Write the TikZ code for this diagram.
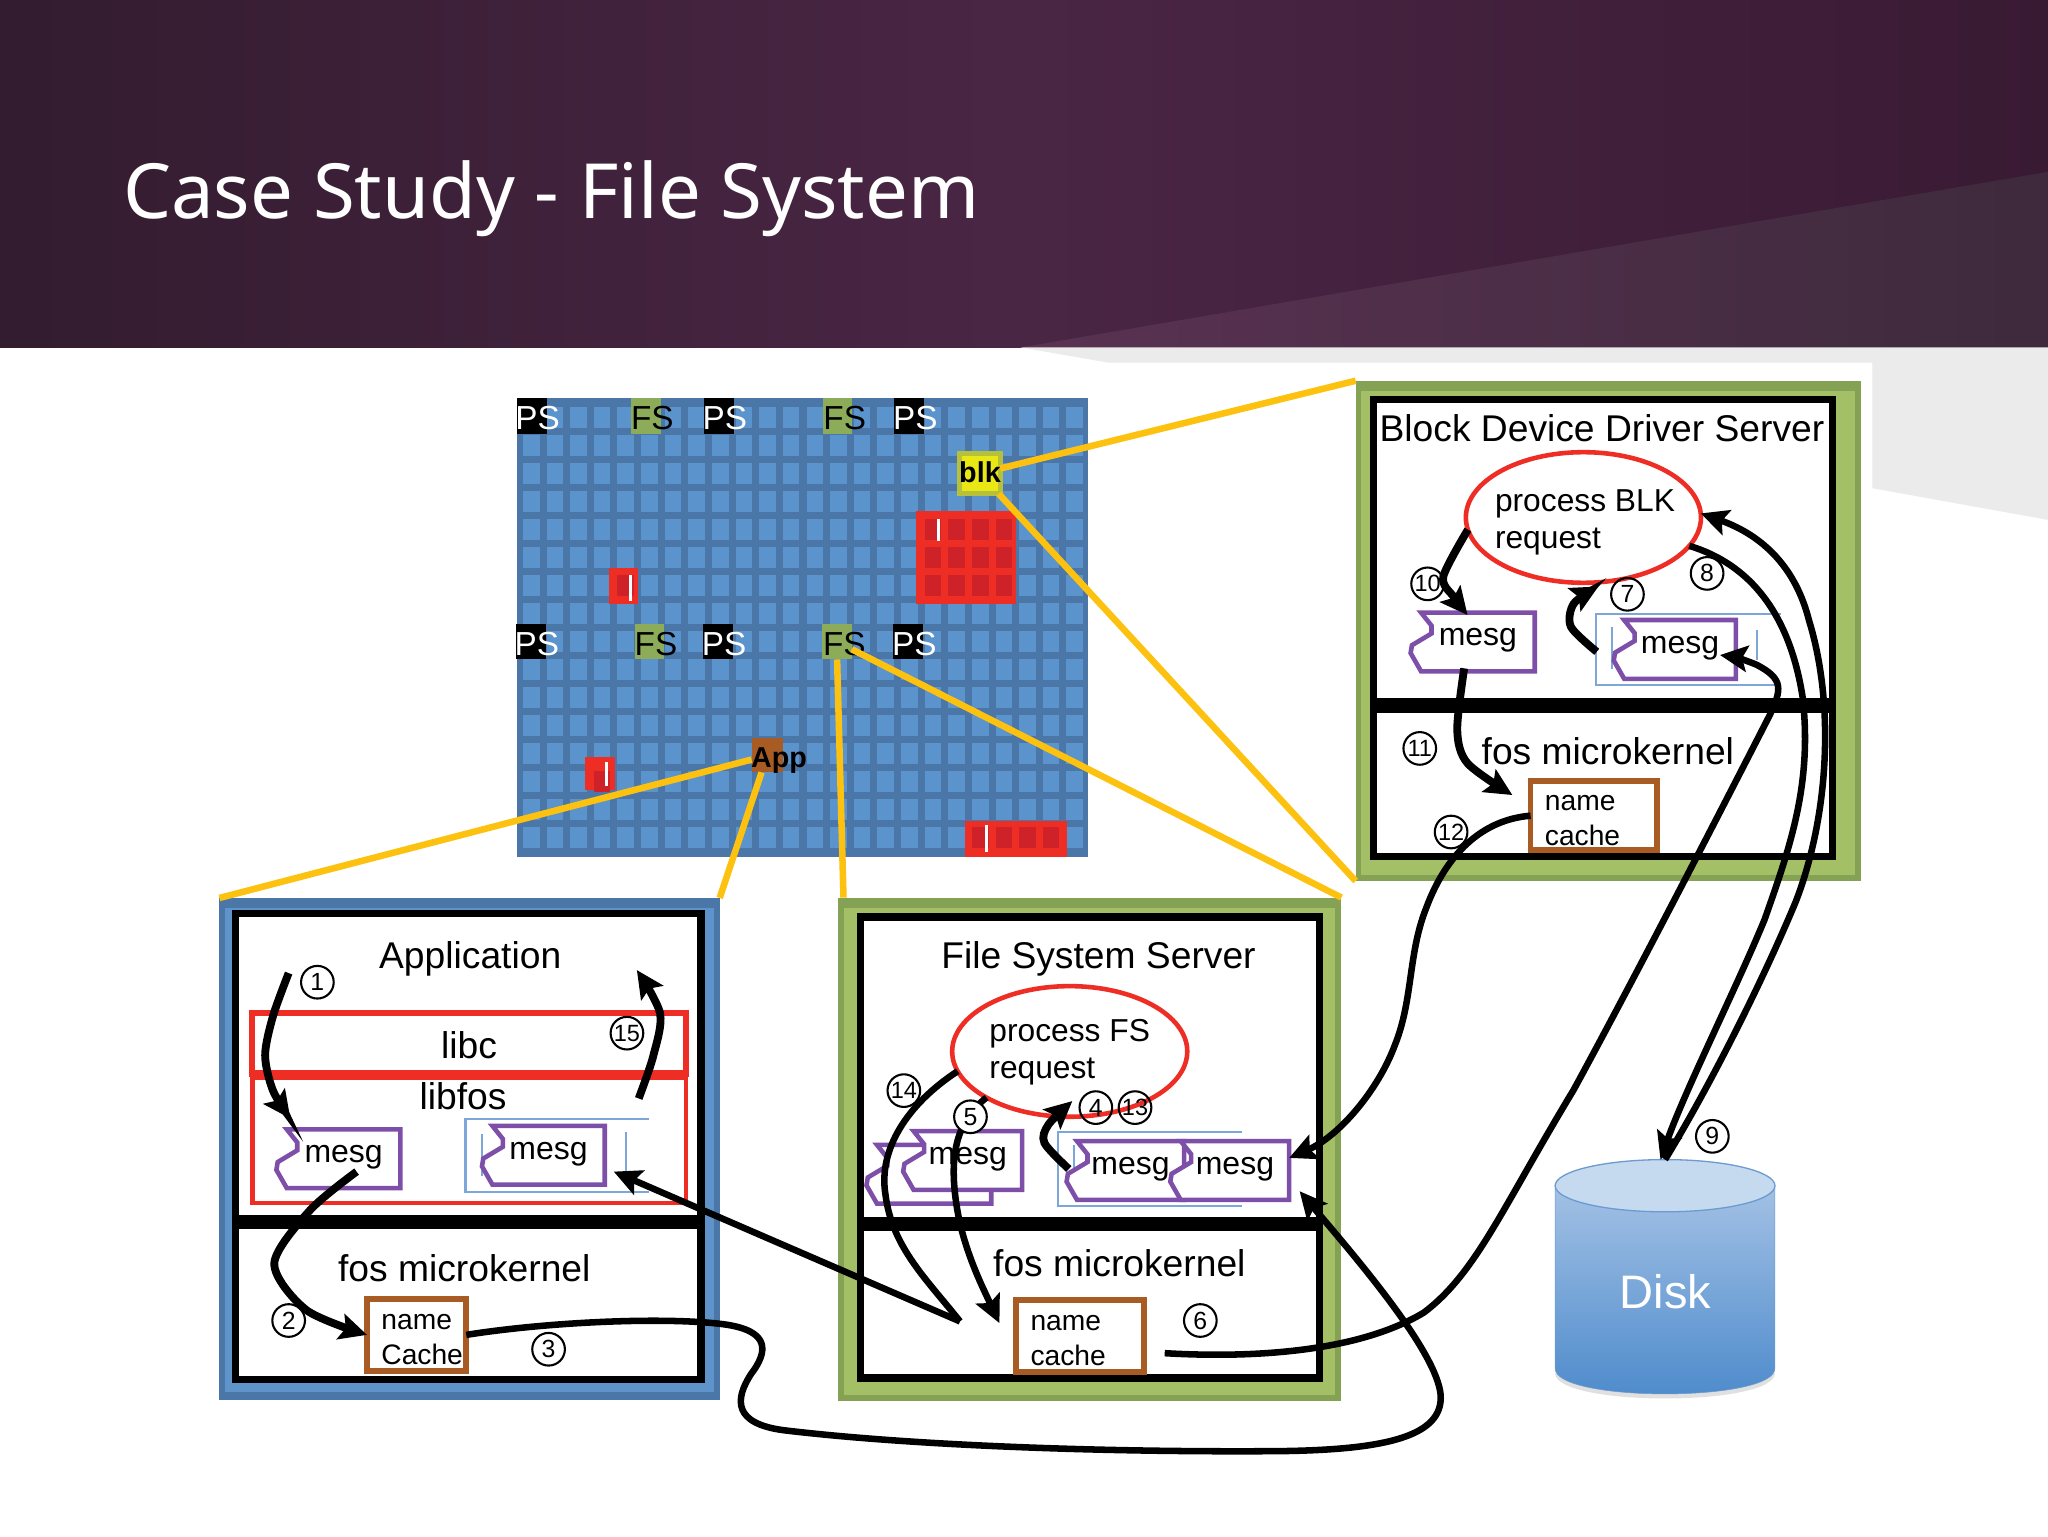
\documentclass[tikz,border=0pt]{standalone}
\usepackage{fontspec}
\setmainfont{Liberation Sans}
\newfontfamily\titlefont{Noto Sans}
\usetikzlibrary{arrows.meta,calc,positioning,shapes.geometric}

\definecolor{bandA}{HTML}{331C2F}
\definecolor{bandB}{HTML}{4A2645}
\definecolor{bandC}{HTML}{391A33}
\definecolor{wedgeA}{HTML}{5A3253}
\definecolor{wedgeB}{HTML}{3E2A3C}
\definecolor{paleGrey}{HTML}{EBEBEB}
\definecolor{chipBlue}{HTML}{4A76A8}
\definecolor{cellBlue}{HTML}{5B93CD}
\definecolor{redOn}{HTML}{EE2D24}
\definecolor{redCell}{HTML}{CF2228}
\definecolor{oliveOn}{HTML}{8CAC5A}
\definecolor{greenDark}{HTML}{85A154}
\definecolor{greenLight}{HTML}{A3C066}
\definecolor{blueLight}{HTML}{5F94CB}
\definecolor{zoomGold}{HTML}{FDC10F}
\definecolor{brownBox}{HTML}{A85C24}
\definecolor{tagPurple}{HTML}{7D4FA8}
\definecolor{brkBlue}{HTML}{7CA7D8}
\definecolor{blkYellow}{HTML}{E9E815}
\definecolor{blkEdge}{HTML}{B6C03A}
\definecolor{diskLid}{HTML}{C5D9EF}
\definecolor{diskHigh}{HTML}{A3C1E5}
\definecolor{diskLow}{HTML}{4C8ACB}
\definecolor{diskEdge}{HTML}{6B9BD0}

\newcommand{\mesgtag}[5]{
  \draw[tagline,shift={(#2,#3)}] (0,0) -- (#4,0) -- (#4,45) -- (0,45) -- (-8,31) -- (-7,25) -- (8,16) -- (8,10) -- cycle;
  \node[msgtxt] (#1) at ({#2+#4/2},{#3+21.5}) {#5};
}
\newcommand{\brk}[5]{
  \draw[brkline] (#3,#1) -- (#2,#1) -- (#2,#5) -- (#3,#5);
  \draw[brkline] (#4,{#1+10}) -- (#4,{#5-12});
}
\newcommand{\namecache}[1]{\rule{0pt}{18.5pt}name\\#1}

\begin{document}
\begin{tikzpicture}[x=1pt,y=-1pt,
                    chip/.style    ={rectangle,outer sep=0pt,inner sep=0pt},
                    chiptxt/.style ={inner sep=0pt,font=\fontsize{25.5}{27}\selectfont},
                    chipbold/.style={inner sep=0pt,font=\bfseries\fontsize{22}{24}\selectfont},
                    outerbox/.style={rectangle,anchor=north west,outer sep=0pt,inner sep=0pt},
                    fosbox/.style  ={rectangle,anchor=north west,draw=black,fill=white,line width=5.5pt,outer sep=0pt,inner sep=0pt},
                    libbox/.style  ={rectangle,draw=redOn,outer sep=0pt,inner sep=0pt,minimum width=332pt},
                    txt/.style     ={inner sep=0pt,font=\fontsize{28.5}{30}\selectfont},
                    msgtxt/.style  ={inner sep=0pt,font=\fontsize{24.5}{26}\selectfont},
                    tagline/.style ={draw=tagPurple,fill=white,line width=3.5pt},
                    brkline/.style ={draw=brkBlue,line width=1.6pt},
                    proc/.style    ={ellipse,draw=redOn,fill=white,line width=3.5pt,outer sep=0pt,inner sep=0pt,minimum width=180pt,minimum height=100pt},
                    proctxt/.style ={inner sep=0pt,align=left,font=\fontsize{24.3}{28}\selectfont},
                    namebox/.style ={rectangle,draw=brownBox,fill=white,line width=4.5pt,outer sep=0pt,inner ysep=0pt,inner xsep=11pt,minimum height=#1,align=left,font=\fontsize{21.6}{27}\selectfont},
                    numc/.style    ={circle,draw=black,line width=1.6pt,outer sep=0pt,inner sep=0pt,minimum size=25pt,font=\fontsize{19}{20}\selectfont},
                    zoomline/.style={draw=zoomGold,line width=5pt},
                    flow/.style    ={draw=black,line width=5pt},
                    flowhead/.style={flow,-{Stealth[length=21pt,width=20pt,inset=4pt]}},
                    flowfat/.style ={draw=black,line width=6pt,-{Stealth[length=21pt,width=20pt,inset=4pt]}}]

  \useasboundingbox (0,0) rectangle (1568,1176);
  \fill[white] (0,0) rectangle (1568,1176);

  % slide header
  \shade[left color=bandA,right color=bandC,middle color=bandB] (0,0) rectangle (1568,266);
  \shade[left color=wedgeA,right color=wedgeB] (781.6,266) -- (1568,131.5) -- (1568,266) -- cycle;
  \fill[paleGrey] (781.6,266) -- (849,277.7) -- (1433.6,277.7) -- (1433.6,373.8) -- (1568,398) -- (1568,266) -- cycle;
  \node[anchor=base west,inner sep=0pt,text=white,font=\titlefont\fontsize{58.3}{62}\selectfont] (title) at (94,167) {Case Study - File System};

  % chip with its tiles
  \fill[chipBlue] (395.6,305) rectangle (833,656.5);
  \foreach \c in {0,...,23}
    \foreach \r in {0,...,15}
      \fill[cellBlue] ({400.4+18.09*\c},{311.6+21.45*\r}) rectangle +(12.7,15.7);

  \fill[redOn] (701,391.3) rectangle (778,462.4);
  \fill[redOn] (466,434.7) rectangle (488.8,462.4);
  \fill[redOn] (447.9,579.4) rectangle (471.2,605.2);
  \fill[redOn] (739.2,628.8) rectangle (816.7,656.5);
  \foreach \c/\r in {17/4,18/4,19/4,20/4,17/5,18/5,19/5,20/5,17/6,18/6,19/6,20/6,4/6,3/13,19/15,20/15,21/15,22/15}
    \fill[redCell] ({400.4+18.09*\c},{311.6+21.45*\r}) rectangle +(12.7,15.7);
  \foreach \x/\y/\h in {718.7/397/17,482.7/440.3/20,464.6/583.7/18,755/632/20}
    \fill[white] ({\x-1.2},\y) rectangle +(2.4,\h);

  \foreach \n/\x/\y in {a/407.1/318.5,b/550.5/318.5,c/696.3/318.5,d/406.5/491.4,e/549.9/491.4,f/695.5/491.4}{
    \node[chip,fill=black,minimum width=23pt,minimum height=27pt] (ps\n) at (\x,\y) {};
    \node[chiptxt,text=white] at ($(ps\n)+(4.5,1.5)$) {PS};
  }
  \foreach \n/\x/\y/\dx in {a/494.5/318.5/5,b/641.2/318.5/5.5,c/497.2/491.4/5,d/640.9/491.4/5.5}{
    \node[chip,fill=oliveOn,minimum width=22.5pt,minimum height=27pt] (fs\n) at (\x,\y) {};
    \node[chiptxt,text=black] at ($(fs\n)+(\dx,1.5)$) {FS};
  }
  \node[chip,fill=blkYellow,draw=blkEdge,line width=3.5pt,minimum width=31pt,minimum height=31pt] (blk) at (750.3,362.5) {};
  \node[chipbold] at ($(blk)+(0,-1)$) {blk};
  \node[chip,fill=brownBox,minimum width=24pt,minimum height=26pt] (app) at (587.4,578.4) {};
  \node[chipbold] at ($(app)+(9,4)$) {App};

  % three panels
  \node[outerbox,fill=chipBlue,minimum width=383pt,minimum height=384pt] (appPanel) at (168,687.5) {};
  \fill[blueLight] (172,695) rectangle (547,1066);
  \node[outerbox,fill=greenDark,minimum width=385.2pt,minimum height=385.8pt] (fsPanel) at (641.8,687.2) {};
  \fill[greenLight] (646,695) rectangle (1022,1068);
  \node[outerbox,fill=greenDark,minimum width=386.8pt,minimum height=383pt] (blkPanel) at (1037.9,291.5) {};
  \fill[greenLight] (1042,299) rectangle (1420,670);

  \draw[zoomline] (blk) -- (blkPanel.north west);
  \draw[zoomline] (blk) -- (blkPanel.south west);
  \draw[zoomline] (fsd) -- (fsPanel.north east);
  \draw[zoomline] (fsd.south) -- ($(fsPanel.north west)+(4,0)$);
  \draw[zoomline] (app) -- (appPanel.north west);
  \draw[zoomline] (app) -- (appPanel.north east);

  \node[fosbox,minimum width=356.7pt,minimum height=233.5pt] (appUser) at (180,699.5) {};
  \node[fosbox,minimum width=356.7pt,minimum height=118pt]   (appKern) at (180,938) {};
  \node[fosbox,minimum width=351.5pt,minimum height=232.7pt] (fsUser)  at (658.5,702) {};
  \node[fosbox,minimum width=351.5pt,minimum height=115pt]   (fsKern)  at (658.5,940) {};
  \node[fosbox,minimum width=351.2pt,minimum height=231.5pt] (blkUser) at (1051.8,306) {};
  \node[fosbox,minimum width=351.2pt,minimum height=113pt]   (blkKern) at (1051.8,543) {};

  \node[txt] (appTitle)  at (360,734.5)  {Application};
  \node[txt] (fsTitle)   at (841,734.5)  {File System Server};
  \node[txt] (blkTitle)  at (1226.5,328) {Block Device Driver Server};
  \node[txt] (appFos)    at (355.5,971)  {fos microkernel};
  \node[txt] (fsFos)     at (857,967)    {fos microkernel};
  \node[txt] (blkFos)    at (1231,575)   {fos microkernel};

  % application side
  \node[libbox,line width=3.5pt,minimum height=96pt] (libfos) at (359.1,873) {};
  \node[libbox,line width=5pt,minimum height=46pt] (libc) at (359.1,798.7) {};
  \node[txt] (libcTxt)   at (359.1,800.5) {libc};
  \node[txt] (libfosTxt) at (354.5,839) {libfos};
  \brk{857}{356.4}{497}{479.4}{912.5}
  \draw[brkline] (368.7,868) -- (368.7,900);
  \mesgtag{mesgA}{219.6}{864.7}{87}{mesg}
  \mesgtag{mesgB}{377}{862}{86}{mesg}
  \node[namebox=55pt,text width=54pt] (appCache) at (319,1022) {\namecache{Cache}};

  % file system side
  \node[proc] (procFS) at (819,805) {};
  \node[proctxt] (procFStxt) at (819,805.5) {process FS\\request};
  \mesgtag{mesgBack}{671.4}{876.5}{87.5}{}
  \mesgtag{mesgC}{699.5}{866}{83}{mesg}
  \brk{867}{810}{951}{822.4}{923}
  \mesgtag{mesgD}{824.6}{873.7}{82}{mesg}
  \mesgtag{mesgE}{904}{873.7}{83}{mesg}
  \node[namebox=55.5pt,text width=76pt] (fsCache) at (827,1023) {\namecache{cache}};

  % block device side
  \node[proc] (procBLK) at (1212.3,396.2) {};
  \node[proctxt] (procBLKtxt) at (1213.5,400) {process BLK\\request};
  \brk{470.4}{1221.7}{1363.5}{1234.3}{524.5}
  \draw[brkline] (1345,482) -- (1345,505);
  \mesgtag{mesgF}{1088}{469}{87}{mesg}
  \mesgtag{mesgG}{1243.5}{474.7}{85.5}{mesg}
  \node[namebox=52.5pt,text width=75pt] (blkCache) at (1220.3,624.5) {\namecache{cache}};

  % disk
  \fill[black!30,opacity=.4] (1190.6,1051) .. controls (1190.6,1077) and (1358.9,1077) .. (1358.9,1051) -- cycle;
  \shade[top color=diskHigh,bottom color=diskLow,draw=diskEdge] (1190.6,907.8) -- (1190.6,1047.7) .. controls (1190.6,1073.7) and (1358.9,1073.7) .. (1358.9,1047.7) -- (1358.9,907.8) -- cycle;
  \node[ellipse,fill=diskLid,draw=diskEdge,line width=1pt,outer sep=0pt,inner sep=0pt,minimum width=168.3pt,minimum height=40pt] (diskTop) at (1274.8,907.8) {};
  \node[text=white,inner sep=0pt,font=\fontsize{36}{38}\selectfont] (disk) at (1275,989) {Disk};

  % step numbers
  \foreach \n/\x/\y in {1/243/752,2/221/1011,3/420/1033,6/919/1011,7/1246/455,8/1307/439,9/1311/870,4/839/848}
    \node[numc] (c\n) at (\x,\y) {\n};
  \foreach \n/\x/\y in {10/1093/447,11/1087/573,12/1111/637,13/869/848,14/692/835,15/480/791}
    \node[numc,font=\fontsize{18}{20}\selectfont] (c\n) at (\x,\y) {\n};

  \coordinate (appStart)  at (221,745);
  \coordinate (mesgAin)   at (222.3,856.3);
  \coordinate (libfosOut) at (489,841);
  \coordinate (appEnd)    at (487.6,742.7);
  \coordinate (mesgAout)  at (273,897);
  \coordinate (mesgBin)   at (469.9,897);
  \coordinate (fsHub)     at (735,1011.7);
  \coordinate (fsCacheIn) at (765.2,1013);
  \coordinate (fsCacheOut) at (891.7,1036);
  \coordinate (fsMsgOut)  at (818.3,895);
  \coordinate (fsProcIn)  at (821,843);
  \coordinate (mesgEin)   at (987,886.5);
  \coordinate (mesgElow)  at (995,912);
  \coordinate (blkBrkOut) at (1222.5,499);
  \coordinate (blkProcIn) at (1223.8,449);
  \coordinate (mesgGin)   at (1316.9,501.5);
  \coordinate (mesgFin)   at (1123.6,470.9);
  \coordinate (mesgFout)  at (1121,511.7);
  \coordinate (blkCacheIn) at (1157.9,608.7);

  % arrows
  \draw[flowfat] plot[smooth] coordinates {(appStart) (209,778) (203,808) (209,835) (mesgAin)};
  \draw[flowfat] plot[smooth] coordinates {(libfosOut) (500,809) (505.4,776) (appEnd)};
  \draw[flowfat] plot[smooth] coordinates {(mesgAout) (237.4,926.5) (210,967.3) (234.6,1003) (appCache.west)};
  \draw[flowhead] (appCache.east) .. controls (420,1012) and (510,1008) .. (555,1014) .. controls (590,1019) and (588,1035) .. (575,1052) .. controls (562,1072) and (562,1090) .. (600,1095) .. controls (700,1107) and (850,1112) .. (980,1111) .. controls (1060,1110) and (1105,1100) .. (1103,1068) .. controls (1100,1035) and (1040,965) .. (mesgElow);
  \draw[flowfat] plot[smooth] coordinates {(fsMsgOut) (799.6,875) (802.7,861) (fsProcIn)};
  \draw[flowhead] (procFS.209) .. controls (730,860) and (725,890) .. (735,937) .. controls (742,965) and (752,985) .. (fsCacheIn);
  \draw[flow] (procFS.190) .. controls (695,845) and (672,880) .. (678,915) .. controls (683,955) and (710,980) .. (fsHub);
  \draw[flowhead] (fsHub) -- (mesgBin);
  \draw[flowhead] (fsCacheOut) .. controls (960,1040) and (1040,1035) .. (1090,1005) .. controls (1130,975) and (1150,925) .. (1204.7,834.6) .. controls (1240,770) and (1300,655) .. (1355,547.4) .. controls (1364,528) and (1366,520) .. (1345,509) .. controls (1338,506) and (1328,503) .. (mesgGin);
  \draw[flowhead] (blkCache.west) .. controls (1130,628) and (1105,660) .. (1092,695) .. controls (1078,730) and (1082,765) .. (1068,800) .. controls (1055,835) and (1025,870) .. (mesgEin);
  \draw[flowfat] plot[smooth] coordinates {(blkBrkOut) (1202.7,479.8) (1205,462) (blkProcIn)};
  \draw[flowhead] (procBLK.-15) .. controls (1340,432) and (1370,470) .. (1380,533) .. controls (1388,600) and (1370,650) .. (1351,704) .. controls (1330,755) and (1290,835) .. (diskTop.100);
  \draw[flowhead] (diskTop.north) .. controls (1310,830) and (1350,750) .. (1375,690) .. controls (1400,625) and (1405,540) .. (1385,475) .. controls (1375,435) and (1350,410) .. (procBLK.2);
  \draw[flowfat] plot[smooth] coordinates {(procBLK.186) (1105,441.5) (1113,457) (mesgFin)};
  \draw[flowfat] plot[smooth] coordinates {(mesgFout) (1115.7,559) (1123.6,584.4) (blkCacheIn)};

  % this circle sits on top of its arrow
  \node[numc,fill=white] (c5) at (743,855) {5};
\end{tikzpicture}
\end{document}
